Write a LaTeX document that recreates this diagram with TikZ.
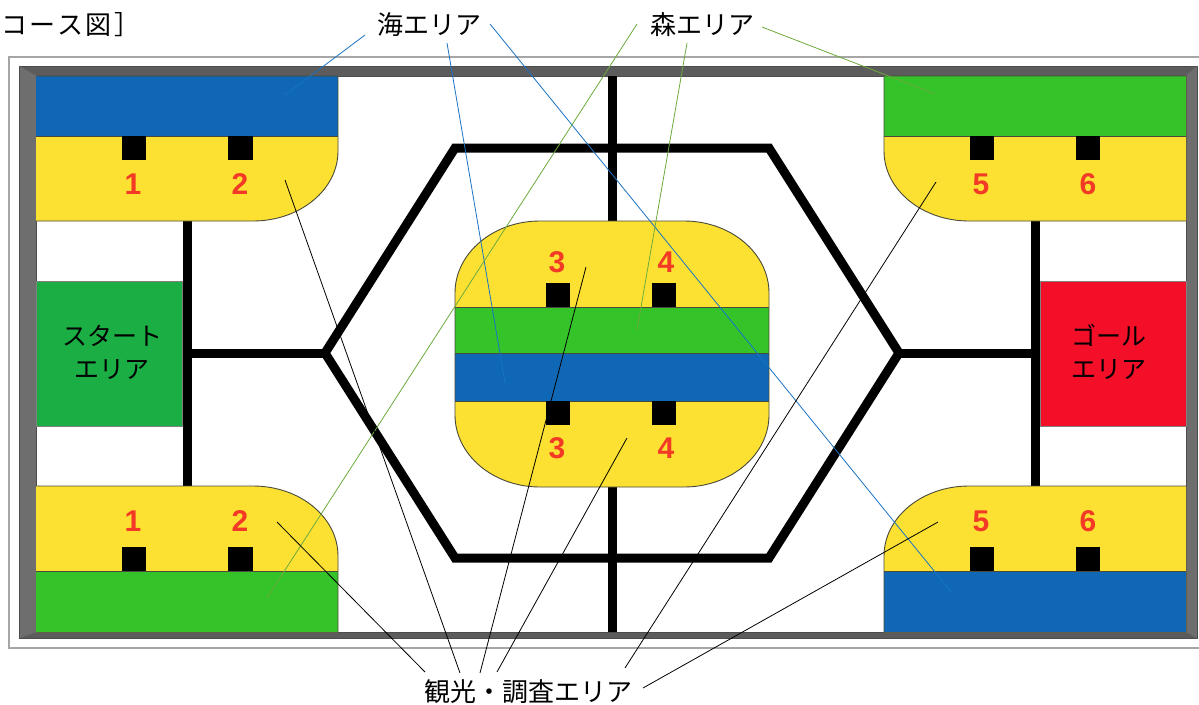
\documentclass[tikz,border=0pt]{standalone}
\usepackage{fontspec}
\setmainfont{Liberation Sans}
\newfontfamily\jp{Noto Sans CJK JP}
\newfontfamily\jpwide[LetterSpace=10]{Noto Sans CJK JP}
\newfontfamily\numfont{Liberation Sans}
\definecolor{zyellow}{HTML}{FCE132}
\definecolor{zblue}{HTML}{1067B5}
\definecolor{zgreen}{HTML}{34C42A}
\definecolor{sgreen}{HTML}{1BAE44}
\definecolor{gred}{HTML}{F30F28}
\definecolor{numred}{HTML}{F23A26}
\definecolor{frameA}{HTML}{5C5C5C}
\definecolor{frameB}{HTML}{6E6E6E}
\definecolor{leadblue}{HTML}{1A72C4}
\definecolor{leadgreen}{HTML}{6DAA3E}
\definecolor{zoneedge}{HTML}{4A4A3A}
\tikzset{
  track/.style={line width=9pt, black, line join=miter},
  zoneline/.style={draw=zoneedge, line width=0.9pt},
  sq/.style={fill=black},
  num/.style={font=\numfont\bfseries\fontsize{30}{30}\selectfont, text=numred, inner sep=0pt},
  lbl/.style={font=\jp\fontsize{26}{30}\selectfont, inner sep=0pt},
  arealbl/.style={font=\jp\fontsize{25}{33}\selectfont, inner sep=0pt, align=center},
  lead/.style={line width=0.8pt},
}
\begin{document}
\begin{tikzpicture}[x=1pt,y=-1pt]
\useasboundingbox (0,0) rectangle (1199,704);
\fill[white] (0,0) rectangle (1199,704);
% outer thin frame
\draw[gray!70, line width=1.5pt] (1199,57) -- (9,57) -- (9,648) -- (1199,648);
% bevelled frame
\fill[frameA] (19,66) -- (1197,66) -- (1186,76) -- (36,76) -- cycle;
\fill[frameB] (19,66) -- (36,76) -- (36,632) -- (19,638) -- cycle;
\fill[frameA] (19,638) -- (36,632) -- (1186,632) -- (1197,638) -- cycle;
\fill[frameB] (1197,66) -- (1197,638) -- (1186,632) -- (1186,76) -- cycle;
\draw[black!70, line width=0.6pt] (19,66) rectangle (1197,638);
\draw[black!70, line width=0.6pt] (36,76) rectangle (1186,632);
\draw[black!60, line width=0.5pt] (19,66) -- (36,76) (1197,66) -- (1186,76) (19,638) -- (36,632) (1197,638) -- (1186,632);
% tracks
\draw[track] (187,221) -- (187,486);
\draw[track] (1035,221) -- (1035,486);
\draw[track] (187,353) -- (325,353);
\draw[track] (899,353) -- (1035,353);
\draw[track] (325,353) -- (455,148) -- (769,148) -- (899,353) -- (769,558) -- (455,558) -- cycle;
\draw[track] (612,76) -- (612,221);
\draw[track] (612,487) -- (612,632);
% top-left zone
\fill[zyellow] (36,76) -- (338,76) -- (338,151) .. controls (338,189.7) and (300,221) .. (253,221) -- (36,221) -- cycle;
\fill[zblue] (36,76) rectangle (338,136);
\draw[zoneline] (36,76) -- (338,76) -- (338,151) .. controls (338,189.7) and (300,221) .. (253,221) -- (36,221);
\draw[zoneline] (36,136) -- (338,136);
\fill[sq] (122,136) rectangle (146,160);
\fill[sq] (228,136) rectangle (253,160);
\node[num] (n1a) at (133,184) {1};
\node[num] (n2a) at (240,184) {2};
% bottom-left zone
\fill[zyellow] (36,486) -- (253,486) .. controls (300,486) and (338,517.3) .. (338,556) -- (338,632) -- (36,632) -- cycle;
\fill[zgreen] (36,571) rectangle (338,632);
\draw[zoneline] (36,486) -- (253,486) .. controls (300,486) and (338,517.3) .. (338,556) -- (338,632);
\draw[zoneline] (36,571) -- (338,571);
\fill[sq] (122,547) rectangle (146,571);
\fill[sq] (228,547) rectangle (253,571);
\node[num] (n1b) at (133,521) {1};
\node[num] (n2b) at (240,521) {2};
% top-right zone
\fill[zyellow] (1186,76) -- (884,76) -- (884,151) .. controls (884,189.7) and (922,221) .. (969,221) -- (1186,221) -- cycle;
\fill[zgreen] (884,76) rectangle (1186,136);
\draw[zoneline] (1186,76) -- (884,76) -- (884,151) .. controls (884,189.7) and (922,221) .. (969,221) -- (1186,221);
\draw[zoneline] (884,136) -- (1186,136);
\fill[sq] (970,136) rectangle (994,160);
\fill[sq] (1076,136) rectangle (1100,160);
\node[num] (n5a) at (981,184) {5};
\node[num] (n6a) at (1088,184) {6};
% bottom-right zone
\fill[zyellow] (1186,486) -- (969,486) .. controls (922,486) and (884,517.3) .. (884,556) -- (884,632) -- (1186,632) -- cycle;
\fill[zblue] (884,571) rectangle (1186,632);
\draw[zoneline] (1186,486) -- (969,486) .. controls (922,486) and (884,517.3) .. (884,556) -- (884,632);
\draw[zoneline] (884,571) -- (1186,571);
\fill[sq] (970,547) rectangle (994,571);
\fill[sq] (1076,547) rectangle (1100,571);
\node[num] (n5b) at (981,521) {5};
\node[num] (n6b) at (1088,521) {6};
% central zone
\fill[zyellow] (540,221) -- (684,221) .. controls (730.9,221) and (769,253.2) .. (769,293) -- (769,415) .. controls (769,454.8) and (730.9,487) .. (684,487) -- (540,487) .. controls (493.1,487) and (455,454.8) .. (455,415) -- (455,293) .. controls (455,253.2) and (493.1,221) .. (540,221) -- cycle;
\fill[zgreen] (455,307) rectangle (769,353);
\fill[zblue] (455,353) rectangle (769,401);
\draw[zoneline] (540,221) -- (684,221) .. controls (730.9,221) and (769,253.2) .. (769,293) -- (769,415) .. controls (769,454.8) and (730.9,487) .. (684,487) -- (540,487) .. controls (493.1,487) and (455,454.8) .. (455,415) -- (455,293) .. controls (455,253.2) and (493.1,221) .. (540,221) -- cycle;
\draw[zoneline] (455,307) -- (769,307) (455,353) -- (769,353) (455,401) -- (769,401);
\fill[sq] (546,283) rectangle (570,307);
\fill[sq] (652,283) rectangle (676,307);
\fill[sq] (546,401) rectangle (570,425);
\fill[sq] (652,401) rectangle (676,425);
\node[num] (n3a) at (557,262) {3};
\node[num] (n4a) at (666,262) {4};
\node[num] (n3b) at (557,448) {3};
\node[num] (n4b) at (666,448) {4};
% start / goal
\fill[sgreen] (36,281) rectangle (182,426);
\draw[black!50, line width=0.6pt] (36,281) rectangle (182,426);
\node[arealbl] (start) at (112,352) {スタート\\エリア};
\fill[gred] (1040,281) rectangle (1186,426);
\draw[black!50, line width=0.6pt] (1040,281) rectangle (1186,426);
\node[arealbl] (goal) at (1109,352) {ゴール\\エリア};
% labels
\node[font=\jpwide\fontsize{26}{30}\selectfont, inner sep=0pt, anchor=west] (title) at (1,25) {コース図］};
\node[lbl] (umi) at (429,25) {海エリア};
\node[lbl] (mori) at (702,25) {森エリア};
\node[lbl] (kanko) at (528,692) {観光・調査エリア};
% leader coordinates
\coordinate (u1) at (365,35);  \coordinate (ue1) at (285,95);
\coordinate (u2) at (447,43);  \coordinate (ue2) at (505,383);
\coordinate (u3) at (490,24);  \coordinate (ue3) at (952,593);
\coordinate (m1) at (637,24);  \coordinate (me1) at (267,598);
\coordinate (m2) at (687,43);  \coordinate (me2) at (637,330);
\coordinate (m3) at (762,27);  \coordinate (me3) at (935,94);
\coordinate (k1) at (425,672); \coordinate (ke1) at (277,522);
\coordinate (k2) at (460,673); \coordinate (ke2) at (285,180);
\coordinate (k3) at (480,673); \coordinate (ke3) at (586,267);
\coordinate (k4) at (497,672); \coordinate (ke4) at (627,438);
\coordinate (k5) at (625,668); \coordinate (ke5) at (936,182);
\coordinate (k6) at (643,688); \coordinate (ke6) at (938,522);
\draw[lead, leadblue] (u1) -- (ue1) (u2) -- (ue2) (u3) -- (ue3);
\draw[lead, leadgreen] (m1) -- (me1) (m2) -- (me2) (m3) -- (me3);
\draw[lead, black] (k1) -- (ke1) (k2) -- (ke2) (k3) -- (ke3) (k4) -- (ke4) (k5) -- (ke5) (k6) -- (ke6);
\end{tikzpicture}
\end{document}
